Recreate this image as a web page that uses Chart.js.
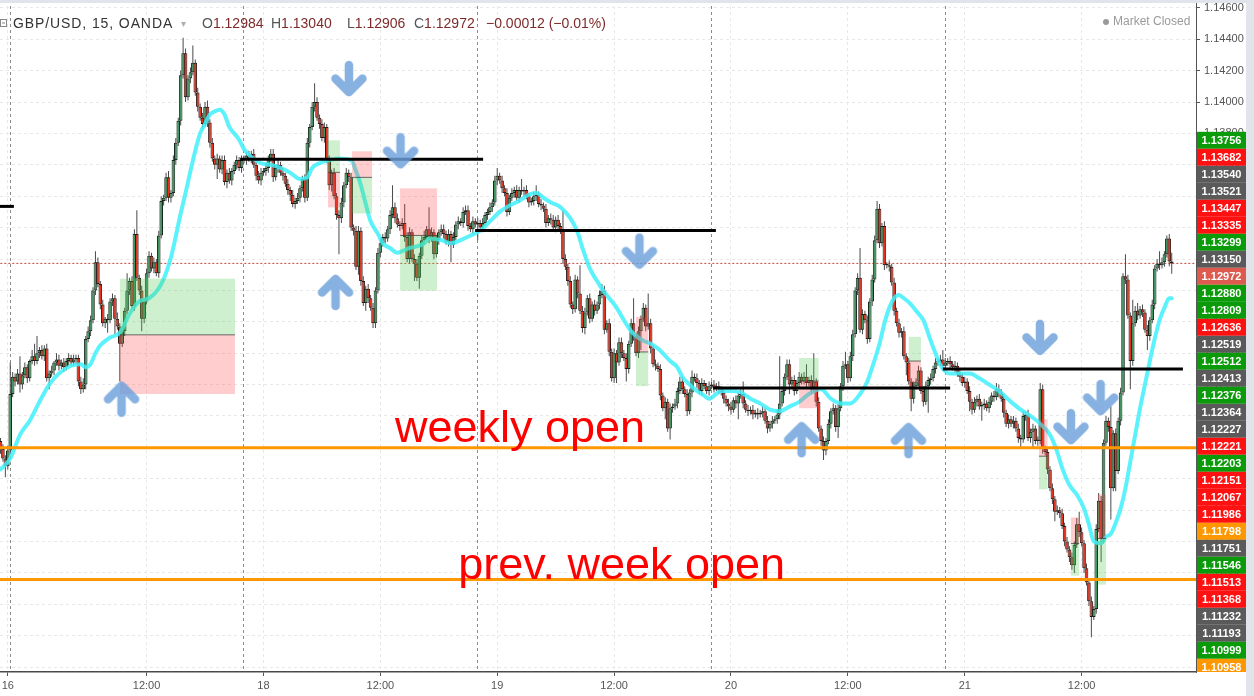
<!DOCTYPE html>
<html>
<head>
<meta charset="utf-8">
<script src="https://cdn.jsdelivr.net/npm/chart.js@4.4.1/dist/chart.umd.min.js"></script>
<style>
  html, body { margin: 0; padding: 0; background: #fff; overflow: hidden; }
  canvas { display: block; }
</style>
</head>
<body>
<canvas id="chart" width="1254" height="696"></canvas>
<script>
// GBP/USD 15 min, OANDA. Prices are kept in pips above 1.10000 (1.12972 -> 297.2)
const BASE = 1.1;

const firstOpen = 184;
const closesFri = [
  179,173,168,178,214,225,222,227,220,226, 231,224,235,238,235,240,242,238,243,224,
  227,229,234,236,232,234,231,235,237,234, 236,237,222,217,220,249,254,261,280,298,
  284,271,259,262,261,273,275,262,257,246, 254,267,280,286,270,316,288,280,262,273,
  291,302,294,298,291,315,337,339,352,339, 342,363,374,388,417,431,403,415,419,425,
  406,397,390,386,397,387,374,364,360,364, 357,363,349,355,350,356,360,363,358,363
];
const closesMon = [
  363,366,364,367,360,353,350,355,356,358, 364,367,352,358,360,355,353,348,344,341,
  335,337,339,345,351,339,374,384,397,400, 390,386,377,384,363,347,355,340,328,326,
  336,347,355,352,320,318,295,318,286,272, 281,275,269,259,280,304,310,314,313,319,
  328,333,326,322,321,323,314,300,317,300, 297,288,302,312,314,319,313,317,303,312,
  317,319,316,311,316,309,314,322,324,323, 330,331,321,319,324,322
];
const closesTue = [
  323,320,323,328,330,333,336,350,353,350, 345,342,330,339,342,344,339,344,343,344,
  340,336,337,340,341,335,334,332,323,326, 325,320,325,321,318,300,295,286,271,268,
  287,278,267,256,266,275,262,271,267,271, 277,280,255,259,241,224,240,234,247,240,
  237,230,246,259,251,240,254,262,269,257, 259,243,233,232,230,213,205,209,192,205,
  206,208,216,222,217,214,203,215,225,224, 221,216,221,219,216,219
];
const closesWed = [
  220,218,219,217,215,211,208,206,204,210, 208,213,214,208,204,203,204,201,202,201,
  202,203,197,192,195,197,198,201,208,216, 225,233,220,223,216,221,225,222,225,221,
  223,217,222,209,192,184,178,184,195,203, 205,193,205,219,232,233,224,238,252,280,
  288,255,265,261,249,273,287,312,332,310, 321,296,296,295,285,267,259,253,254,238,
  234,222,211,219,222,229,216,209,219,223, 224,230,234,235,236,232
];
const closesThu = [
  234,235,233,231,232,227,225,221,222,216, 209,204,209,211,206,207,208,205,209,213,
  212,217,215,211,202,195,198,195,197,192, 186,185,200,201,186,190,192,184,184,217,
  179,177,166,154,147,139,140,138,130,120, 115,110,105,118,131,126,119,103,94,82,
  72,77,128,146,122,183,197,193,154,189, 165,197,215,289,287,264,235,259,267,264,
  268,266,255,251,261,271,294,297,296,298, 303,313,298.4,297.2
];

// wick length above / below the body, in pips
const wickUp = [
  2,3,2,3,20,3,2,3,11,2, 3,2,1,4,8,11,2,3,2,3, 2,3,1,4,3,2,3,2,3,2, 3,2,2,3,4,2,3,3,2,7,
  3,2,3,1,3,2,3,2,4,2, 3,2,11,2,3,3,15,2,3,2, 3,3,2,3,2,3,3,2,3,4, 2,3,3,2,3,10,3,2,3,11,
  2,3,2,3,3,4,2,3,2,3, 2,3,3,2,3,2,2,3,2,3, 3,2,3,2,3,2,3,3,2,3, 2,3,3,2,3,2,3,2,3,2,
  3,2,3,2,2,3,3,2,3,12, 3,2,3,3,2,3,2,3,2,3, 3,2,3,2,3,2,3,3,2,3, 2,3,2,3,2,3,3,2,3,2,
  3,14,3,3,2,3,12,3,3,2, 3,3,2,3,4,2,14,3,2,3, 2,3,3,2,3,2,3,2,3,2, 3,3,3,2,3,2,3,2,3,2,
  2,3,2,3,5,2,3,2,3,2, 3,2,3,2,7,2,3,2,2,3, 6,2,3,2,3,2,3,3,2,3, 2,13,3,2,3,2,3,2,18,3,
  3,2,3,2,3,2,3,4,3,2, 3,2,3,2,3,3,2,3,2,3, 16,2,3,2,3,2,19,3,2,3, 2,3,2,3,2,3,2,3,2,3,
  3,2,3,2,4,2,3,2,3,2, 2,3,2,3,2,3,2,3,2,3, 3,2,3,2,3,8,2,3,2,3, 2,3,2,3,2,3,2,3,2,3,
  30,3,2,3,3,2,3,2,3,2, 3,8,2,3,18,2,3,2,3,2, 3,2,3,2,3,2,3,8,2,3, 3,2,3,19,3,2,3,2,3,3,
  5,3,2,3,2,3,2,3,2,3, 2,3,2,3,2,3,2,3,2,3, 3,2,3,2,3,2,3,6,3,2, 3,2,3,2,3,2,3,2,3,2,
  3,2,3,2,3,2,3,2,3,4, 3,2,3,2,3,2,3,2,3,2, 3,2,3,2,3,2,3,4,3,2, 3,2,3,2,3,2,3,2,3,2,
  3,2,4,8,3,2,3,2,3,2, 3,5,3,2,3,2,13,2,3,2, 3,2,14,3,2,15,3,5,2,3, 2,3,2,3,2,3,8,3,2,2,
  3,5.6
];
const wickDn = [
  3,2,7,2,3,2,3,2,5,3, 2,3,2,2,3,2,3,2,3,2, 7,2,3,2,3,2,3,2,3,2, 2,3,3,3,2,3,2,3,2,3,
  2,3,2,3,8,2,3,10,2,24, 2,3,2,3,2,3,2,3,8,3, 2,3,2,3,2,3,2,3,2,3, 3,2,3,2,3,2,3,2,3,2,
  2,3,2,3,2,3,3,2,3,9, 2,3,2,4,2,3,2,3,2,3, 2,3,2,3,2,3,2,3,2,3, 3,2,3,2,3,2,3,2,3,4,
  2,3,2,3,2,3,2,3,2,3, 2,3,2,3,2,3,4,2,3,23, 3,3,2,3,2,3,2,5,3,2, 5,3,2,3,3,2,3,2,3,2,
  3,2,3,2,3,2,3,2,3,2, 11,2,7,2,3,2,3,2,3,2, 3,2,3,2,3,11,2,2,3,2, 3,2,3,2,3,2,10,2,3,2,
  3,2,3,2,3,2,3,2,3,2, 2,3,2,3,2,3,2,3,2,3, 3,2,3,2,3,2,3,2,3,2, 2,3,2,3,2,3,2,3,2,3,
  4,2,3,2,3,2,3,2,3,2, 3,2,3,13,2,3,2,8,3,2, 3,2,3,12,2,3,2,3,2,3, 2,3,2,7,2,7,3,2,3,2,
  3,2,3,2,3,2,3,2,3,2, 2,3,2,3,2,3,2,3,2,3, 3,2,3,10,2,3,2,3,2,3, 2,3,2,3,2,3,2,3,2,3,
  3,2,3,2,6,2,3,2,3,2, 2,3,2,3,2,3,2,3,6,3, 2,3,2,3,7,2,3,2,3,2, 3,2,3,2,3,2,3,2,3,2,
  2,3,2,3,2,3,2,3,2,3, 3,2,8,2,8,3,2,3,2,3, 2,17,3,2,3,2,3,2,3,2, 3,2,3,2,3,2,3,2,6,3,
  2,3,2,9,3,2,3,2,3,2, 3,2,3,2,3,2,3,2,3,6, 2,3,2,3,11,2,3,2,3,2, 3,2,3,6,2,3,2,3,2,3,
  3,5,2,3,2,3,2,3,13,2, 3,2,15,3,2,3,20,2,13,2, 3,2,3,2,18,3,2,3,2,3, 2,9,3,2,3,2,3,2,3,2,
  3,6.6
];

// moving average (bar index, pips)
const maIdx = [0,4,8,12,16,20,24,29,33,35,37,39,41,45,49,53,57,61,66,70,74,76,78,80,82,84,86,88,90,92,94,96,98,
  100,103,107,111,115,119,123,126,128,131,135,139,144,146,148,150,152,155,157,160,163,165,168,171,174,176,181,185,189,193,
  197,201,205,209,213,217,220,223,226,230,234,237,239,242,245,247,250,253,256,259,261,264,267,270,272,275,278,280,283,286,289,291,
  296,300,304,308,312,316,320,324,328,332,337,341,345,349,353,356,358,361,363,365,367,369,371,374,376,379,382,385,387,
  390,394,398,402,406,410,415,419,423,427,431,434,436,439,442,445,447,449,452,454,456,458,460,462,464,466,468,470,472,474,476,478,480,481];
const maVal = [166,173,188,197,209,220,227,232,233,231,233,240,245,250,253,265,273,275,284,301,329,342,356,369,380,386,392,394,395,392,384,380,376,
  370,365,361,360,358,355,351,352,358,361,363,364,363,356,347,335,324,316,310,307,304,305,307,308,310,313,312,310,312,315,
  318,324,330,334,337,341,342,339,336,333,326,317,307,294,286,281,275,269,261,254,251,248,246,243,240,235,231,225,220,216,213,211,
  216,216,215,211,208,204,203,206,209,214,217,211,208,208,214,222,231,246,259,269,275,277,275,271,267,261,248,236,230,
  227,227,227,224,220,216,209,204,200,195,188,177,167,156,150,141,131,120,119,123,125,132,141,154,171,188,205,220,235,249,261,269,275,275];

// x axis
const timeTicks = [3, 60, 108, 156, 204, 252, 300, 348, 396, 444];
const timeLabels = ['16', '12:00', '18', '12:00', '19', '12:00', '20', '12:00', '21', '12:00'];
const sessionStarts = [4, 100, 196, 292, 388];

// y axis
const priceTicks = [1.104,1.106,1.108,1.110,1.112,1.114,1.116,1.118,1.120,1.122,1.124,1.126,1.128,1.130,1.132,1.134,1.136,1.138,1.140,1.142,1.144,1.146];
const lastPrice = 1.12972;

// drawn horizontal levels (bar index from / to, price)
const levelFrom = [-1, 98.4, 194.9, 292.6, 387];
const levelTo = [5.5, 198.2, 293.8, 390, 485.6];
const levelPrice = [1.13335, 1.13635, 1.13181, 1.12178, 1.12300];
const weekOpens = [1.11798, 1.10958];

// long / short position boxes (bar index, prices in pips)
const boxFrom = [49.1, 134.5, 144.4, 164.1, 261.0, 328.0, 373.0, 426.5, 439.6, 450.7];
const boxTo = [96.3, 139.4, 152.6, 179.3, 266.0, 336.0, 378.0, 430.0, 443.0, 454.0];
const boxTop = [287.5, 375.6, 368.6, 345.0, 263.2, 237.0, 250.4, 198.0, 135.4, 150.0];
const boxEntry = [251.7, 355.2, 352.0, 315.0, 240.8, 222.3, 235.0, 174.4, 118.8, 122.0];
const boxBottom = [214.0, 332.9, 329.0, 279.8, 219.0, 205.0, 221.0, 153.3, 98.3, 92.6];
const boxSide = ['long', 'long', 'short', 'short', 'short', 'long', 'long', 'short', 'short', 'short'];

// arrows (bar index, pips)
const downAt = [143.1, 164.3, 262.4, 426.9, 439.6, 451.8];
const downPrice = [414.6, 368.6, 304.7, 249.8, 192.9, 211.4];
const upAt = [49.7, 137.6, 329, 372.9];
const upPrice = [211, 279, 185.2, 184.6];

// text notes
const noteText = ['weekly open', 'prev. week open'];
const noteAt = [162, 188];
const notePrice = [1.11833, 1.10964];

// price tags on the right scale, top to bottom
const tagValues = ['1.13756','1.13682','1.13540','1.13521','1.13447','1.13335','1.13299','1.13150','1.12972','1.12880','1.12809',
  '1.12636','1.12519','1.12512','1.12413','1.12376','1.12364','1.12227','1.12221','1.12203','1.12151','1.12067','1.11986',
  '1.11798','1.11751','1.11546','1.11513','1.11368','1.11232','1.11193','1.10999','1.10958'];
const tagKinds = ['g','r','k','k','r','r','g','k','c','g','g','r','k','g','k','g','k','k','r','g','r','r','r','o','k','g','r','r','k','k','g','o'];
const tagColors = { g: '#0a9a0a', r: '#ff1111', k: '#5a5a5a', c: '#de5a4e', o: '#ff9800' };

const FONT = '"Liberation Sans", Arial, sans-serif';
const px = (p) => BASE + p / 10000;

// build candles
const closes = [].concat(closesFri, closesMon, closesTue, closesWed, closesThu);
const bodies = [], wicks = [], bodyFill = [], bodyEdge = [];
closes.forEach((c, i) => {
  const o = i === 0 ? firstOpen : closes[i - 1];
  const hi = Math.max(o, c) + wickUp[i];
  const lo = Math.min(o, c) - wickDn[i];
  bodies.push({ x: i, y: [px(o), px(c)] });
  wicks.push({ x: i, y: [px(lo), px(hi)] });
  const rising = c >= o;
  bodyFill.push(rising ? '#3f9460' : '#e0321f');
  bodyEdge.push(rising ? '#17291d' : '#2e1613');
});

const maPoints = maIdx.map((x, k) => ({ x, y: px(maVal[k]) }));

function makeArrow(down) {
  const c = document.createElement('canvas');
  c.width = 38; c.height = 38;
  const g = c.getContext('2d');
  if (!down) { g.translate(0, 38); g.scale(1, -1); }
  g.strokeStyle = 'rgba(107,160,219,0.82)';
  g.lineWidth = 8.5;
  g.lineCap = 'round';
  g.lineJoin = 'round';
  g.beginPath();
  g.moveTo(19, 5); g.lineTo(19, 32);
  g.moveTo(5.5, 18.5); g.lineTo(19, 32); g.lineTo(32.5, 18.5);
  g.stroke();
  return c;
}

const levelSets = levelPrice.map((p, k) => ({
  type: 'line', label: 'level', order: 5,
  data: [{ x: levelFrom[k], y: p }, { x: levelTo[k], y: p }],
  borderColor: '#000', borderWidth: 3, pointRadius: 0
}));
const weekSets = weekOpens.map((p) => ({
  type: 'line', label: 'week', order: 5,
  data: [{ x: -5, y: p }, { x: 500, y: p }],
  borderColor: '#ff9800', borderWidth: 3, pointRadius: 0
}));

// position boxes are drawn right after the moving average
const drawings = {
  id: 'drawings',
  afterDatasetDraw(chart, args) {
    if (chart.data.datasets[args.index].label !== 'MA') return;
    const { ctx, scales: { x, y } } = chart;
    ctx.save();
    boxFrom.forEach((f, k) => {
      const x0 = x.getPixelForValue(f);
      const x1 = x.getPixelForValue(boxTo[k]);
      const yt = y.getPixelForValue(px(boxTop[k]));
      const ye = y.getPixelForValue(px(boxEntry[k]));
      const yb = y.getPixelForValue(px(boxBottom[k]));
      const green = 'rgba(80,200,80,0.28)';
      const red = 'rgba(255,60,60,0.26)';
      const isLong = boxSide[k] === 'long';
      ctx.fillStyle = isLong ? green : red;
      ctx.fillRect(x0, yt, x1 - x0, ye - yt);
      ctx.fillStyle = isLong ? red : green;
      ctx.fillRect(x0, ye, x1 - x0, yb - ye);
      ctx.strokeStyle = 'rgba(60,60,60,0.75)';
      ctx.lineWidth = 1;
      ctx.beginPath();
      ctx.moveTo(x0, ye); ctx.lineTo(x1, ye);
      ctx.stroke();
    });
    ctx.restore();
  },
  afterDatasetsDraw(chart) {
    const { ctx, scales: { x, y } } = chart;
    ctx.save();
    ctx.font = '45px ' + FONT;
    ctx.fillStyle = '#ff0000';
    ctx.textBaseline = 'alphabetic';
    ctx.textAlign = 'left';
    noteText.forEach((t, k) => {
      ctx.fillText(t, x.getPixelForValue(noteAt[k]), y.getPixelForValue(notePrice[k]));
    });
    ctx.restore();
  },
  afterDraw(chart) {
    const { ctx, chartArea, scales: { y } } = chart;
    ctx.save();

    // price tags, pushed down so they do not overlap
    ctx.beginPath();
    ctx.rect(chartArea.right, 0, 60, chartArea.bottom);
    ctx.clip();
    const h = 17;
    let prev = -Infinity;
    ctx.font = 'bold 11px ' + FONT;
    ctx.textAlign = 'center';
    ctx.textBaseline = 'middle';
    tagValues.forEach((v, k) => {
      let py = y.getPixelForValue(parseFloat(v));
      py = Math.max(py, prev + h);
      prev = py;
      ctx.fillStyle = tagColors[tagKinds[k]];
      ctx.fillRect(chartArea.right + 1, py - h / 2, 49, h);
      ctx.fillStyle = '#fff';
      ctx.fillText(v, chartArea.right + 25.5, py + 0.5);
    });
    ctx.restore();

    ctx.save();
    // frame strips
    ctx.fillStyle = '#e1e4ea';
    ctx.fillRect(chartArea.right + 50, 0, 20, 696);
    ctx.fillRect(0, 0, 1254, 3);

    // legend
    ctx.textBaseline = 'middle';
    ctx.textAlign = 'left';
    ctx.font = '14px ' + FONT;
    ctx.fillStyle = '#333';
    ctx.letterSpacing = '0.9px';
    ctx.fillText('GBP/USD, 15, OANDA', 13, 24);
    ctx.letterSpacing = '0px';
    ctx.fillStyle = '#b0b0b0';
    ctx.font = '10px ' + FONT;
    ctx.fillText('\u25BE', 181, 24);
    const ohlc = [['O', '1.12984', 202], ['H', '1.13040', 271], ['L', '1.12906', 347], ['C', '1.12972', 414]];
    ctx.font = '14px ' + FONT;
    ohlc.forEach(([k, v, xx]) => {
      ctx.fillStyle = '#555';
      ctx.fillText(k, xx, 24);
      ctx.fillStyle = '#7f2a2a';
      ctx.fillText(v, xx + ctx.measureText(k).width, 24);
    });
    ctx.fillText('\u22120.00012 (\u22120.01%)', 486, 24);

    ctx.strokeStyle = '#888';
    ctx.lineWidth = 1;
    ctx.strokeRect(0.5, 19.5, 6, 7);
    ctx.beginPath(); ctx.moveTo(2, 23); ctx.lineTo(5, 23); ctx.stroke();

    ctx.fillStyle = '#9a9a9a';
    ctx.beginPath(); ctx.arc(1106, 22, 3, 0, Math.PI * 2); ctx.fill();
    ctx.font = '12px ' + FONT;
    ctx.fillText('Market Closed', 1113, 22);
    ctx.restore();
  }
};

new Chart(document.getElementById('chart'), {
  type: 'bar',
  data: {
    datasets: [
      { type: 'line', label: 'last', order: 12,
        data: [{ x: -5, y: lastPrice }, { x: 500, y: lastPrice }],
        borderColor: '#c9453a', borderWidth: 1, borderDash: [2, 2], pointRadius: 0 },
      { label: 'wicks', order: 11, data: wicks, backgroundColor: '#4a4a4a',
        barThickness: 1, grouped: false, borderWidth: 0, inflateAmount: 0 },
      { label: 'bodies', order: 10, data: bodies, backgroundColor: bodyFill, borderColor: bodyEdge,
        borderWidth: 1, borderSkipped: false, barThickness: 3.6, grouped: false, minBarLength: 1.5, inflateAmount: 0 },
      { type: 'line', label: 'MA', order: 9, data: maPoints,
        borderColor: 'rgba(64,240,250,0.85)', borderWidth: 4, pointRadius: 0,
        cubicInterpolationMode: 'monotone', borderCapStyle: 'round', borderJoinStyle: 'round' },
      ...levelSets,
      ...weekSets,
      { type: 'line', label: 'down', order: 1, showLine: false,
        data: downAt.map((x, k) => ({ x, y: px(downPrice[k]) })),
        pointStyle: makeArrow(true), pointRadius: 5 },
      { type: 'line', label: 'up', order: 1, showLine: false,
        data: upAt.map((x, k) => ({ x, y: px(upPrice[k]) })),
        pointStyle: makeArrow(false), pointRadius: 5 }
    ]
  },
  options: {
    responsive: false,
    maintainAspectRatio: false,
    devicePixelRatio: 1,
    animation: false,
    events: [],
    layout: { padding: 0, autoPadding: false },
    plugins: { legend: { display: false }, tooltip: { enabled: false } },
    scales: {
      x: {
        type: 'linear', min: -0.2, max: 490.97, offset: false, bounds: 'data',
        afterBuildTicks: (s) => {
          s.ticks = timeTicks.concat(sessionStarts).sort((a, b) => a - b).map((v) => ({ value: v }));
        },
        afterFit: (s) => { s.height = 24; s.paddingLeft = 0; s.paddingRight = 0; },
        ticks: {
          autoSkip: false, maxRotation: 0, padding: 3,
          color: '#555', font: { family: FONT, size: 11 },
          callback: (v) => { const k = timeTicks.indexOf(v); return k >= 0 ? timeLabels[k] : ''; }
        },
        grid: {
          offset: false, tickLength: 4,
          color: (c) => (c.tick && sessionStarts.includes(c.tick.value)) ? '#8c8c8c' : '#e8e8e8',
          tickColor: (c) => (c.tick && sessionStarts.includes(c.tick.value)) ? 'rgba(0,0,0,0)' : '#555'
        },
        border: { color: '#4a4a4a', width: 1.5, dash: [3, 3] }
      },
      y: {
        position: 'right', min: 1.103694, max: 1.146497, beginAtZero: false, bounds: 'data',
        afterBuildTicks: (s) => { s.ticks = priceTicks.map((v) => ({ value: v })); },
        afterFit: (s) => { s.width = 58; s.paddingTop = 0; s.paddingBottom = 0; },
        ticks: {
          padding: 4, color: '#555', font: { family: FONT, size: 11 },
          callback: (v) => v.toFixed(5)
        },
        grid: { color: '#e8e8e8', tickLength: 4, tickColor: '#555' },
        border: { color: '#555', width: 1, dash: [3, 3] }
      }
    }
  },
  plugins: [drawings]
});
</script>
</body>
</html>
